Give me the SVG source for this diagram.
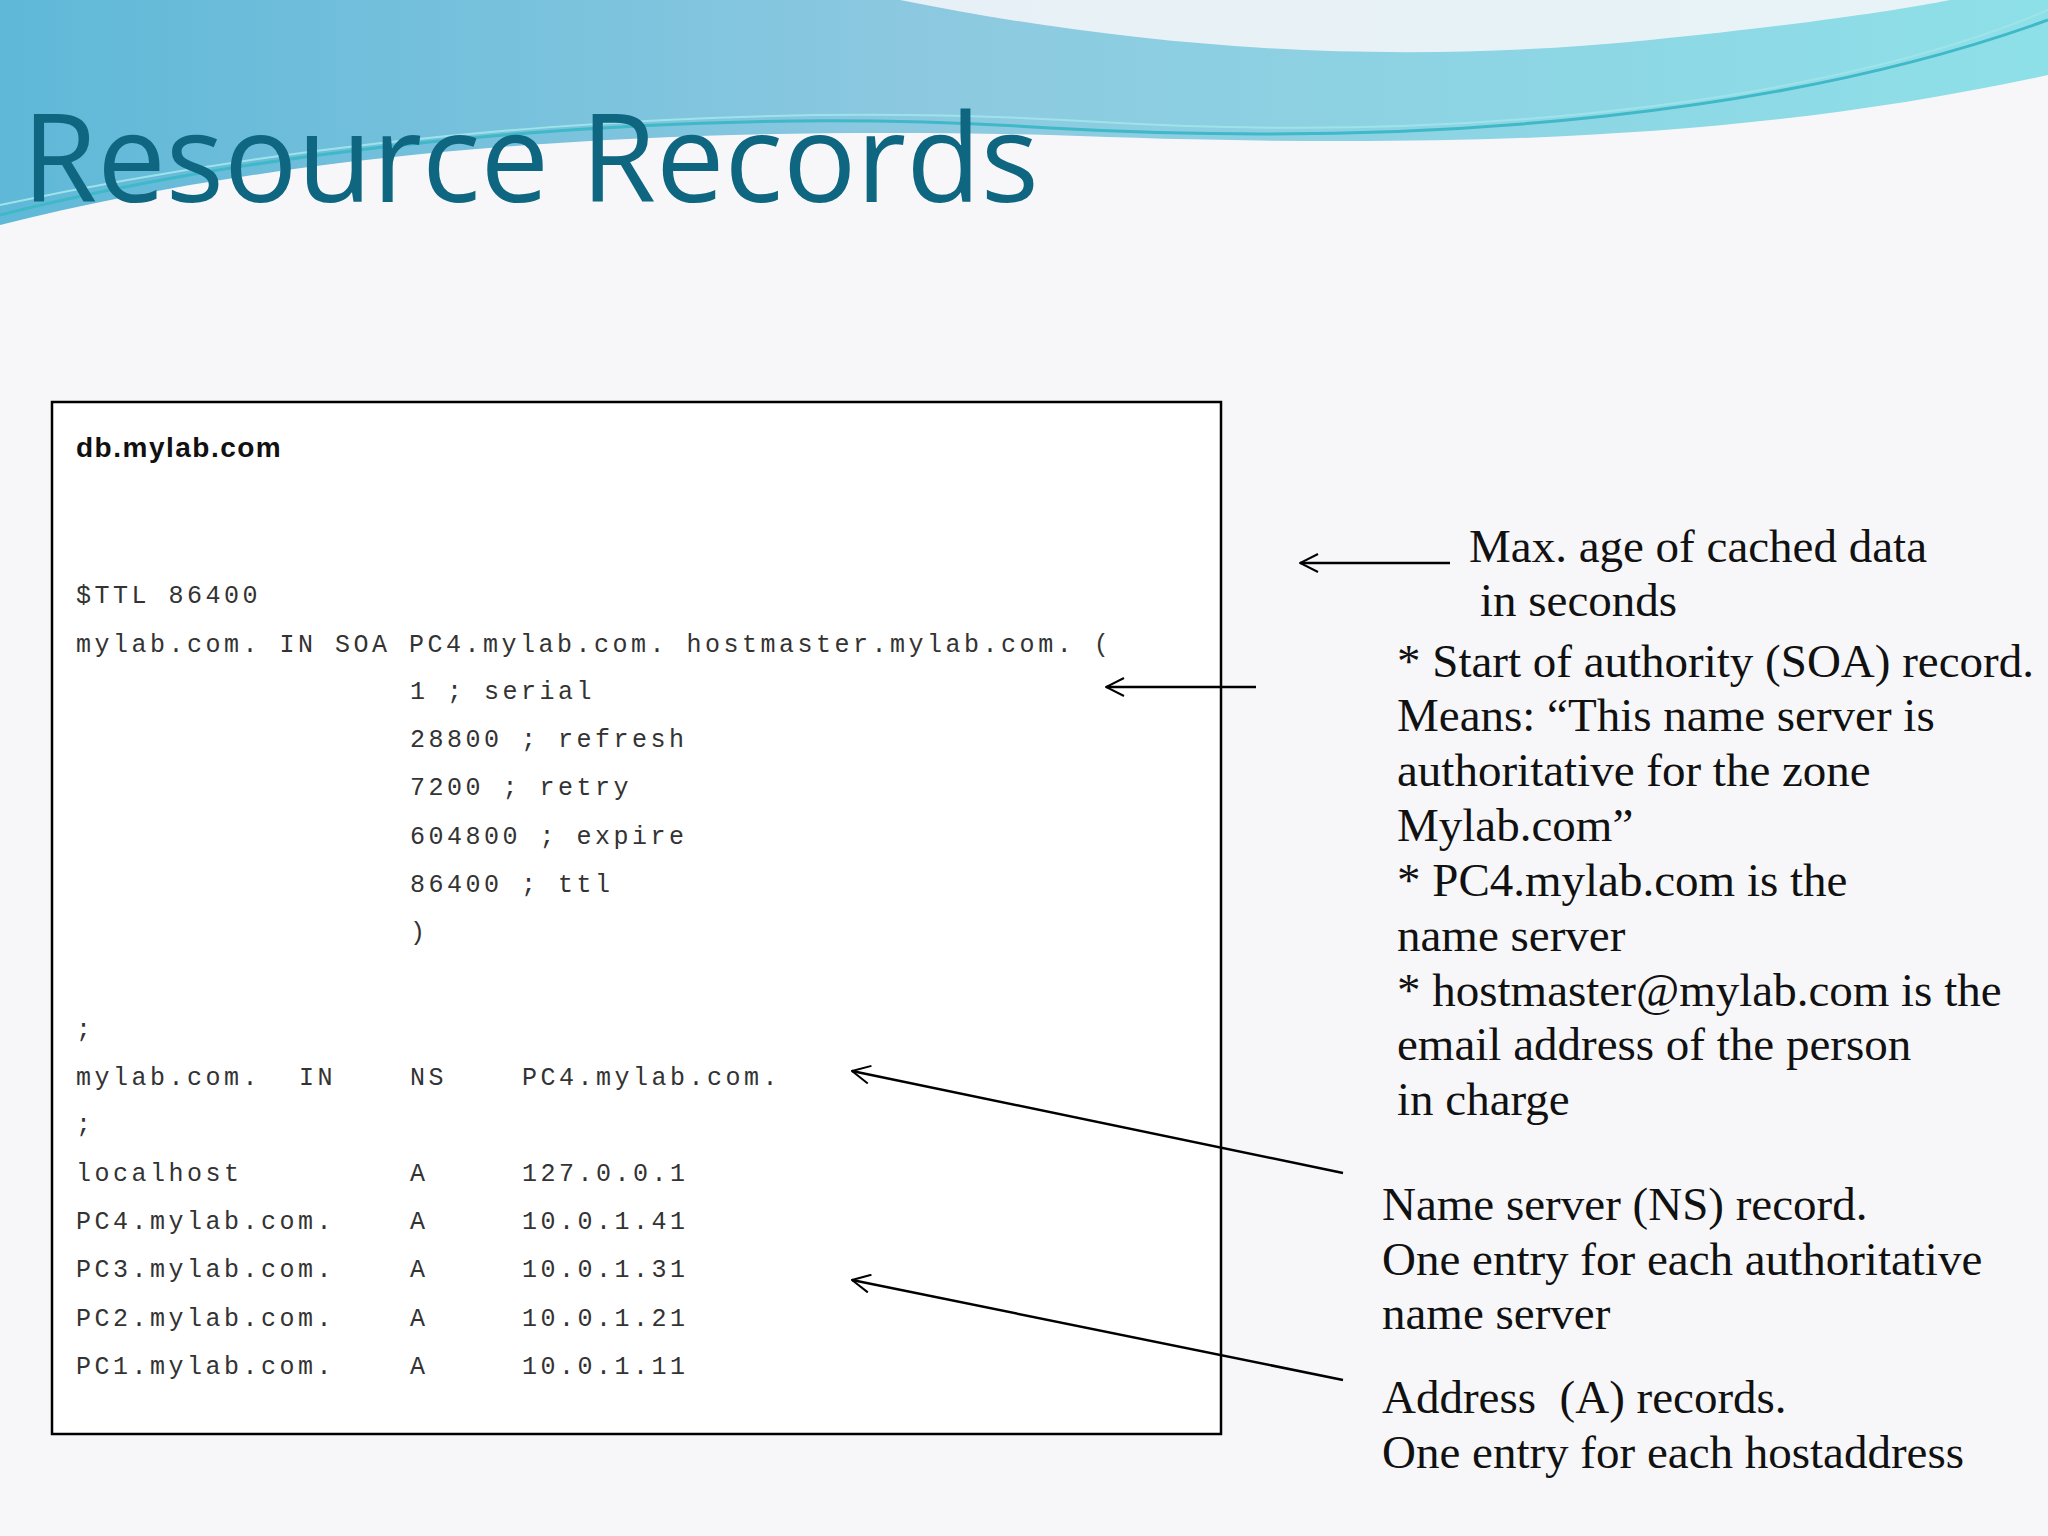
<svg xmlns="http://www.w3.org/2000/svg" width="2048" height="1536" viewBox="0 0 2048 1536">
<defs>
<linearGradient id="sky" x1="0" y1="0" x2="1" y2="0">
<stop offset="0" stop-color="#5fb8d8"/><stop offset="0.45" stop-color="#8cc9e0"/><stop offset="1" stop-color="#8ee0e8"/>
</linearGradient>
<marker id="ah" viewBox="0 0 20 20" refX="19" refY="10" markerWidth="20" markerHeight="20" markerUnits="userSpaceOnUse" orient="auto">
<path d="M1,1 L19,10 L1,19" fill="none" stroke="#000" stroke-width="2"/>
</marker>
<style>
.code{font-family:"Liberation Mono",monospace;font-size:25px;fill:#333;letter-spacing:3.5px}
.note{font-family:"Liberation Serif",serif;font-size:47px;fill:#111}
.arr{stroke:#000;stroke-width:2.5;fill:none;marker-end:url(#ah)}
</style>
</defs>
<rect width="2048" height="1536" fill="#f7f7f9"/>
<g id="header">
<path d="M0,0 H2048 V75 C1750,140 1450,150 1050,135 C650,125 300,150 0,225 Z" fill="url(#sky)"/>
<path d="M900,0 C1100,40 1350,70 1650,40 C1800,25 1900,10 1950,0 Z" fill="#f7f7f9" opacity="0.85"/>
<path d="M0,215 C300,140 700,105 1050,128 C1450,150 1800,110 2048,20" fill="none" stroke="#3fb8c8" stroke-width="3"/>
<path d="M0,205 C350,130 750,100 1100,122 C1500,145 1850,95 2048,10" fill="none" stroke="#9fe3ea" stroke-width="2"/>
</g>
<text x="22" y="202" font-family="Open Sans, sans-serif" font-size="122" fill="#0f6680">Resource Records</text>
<g id="zonefile">
<rect x="52" y="402" width="1169" height="1032" fill="#fff" stroke="#000" stroke-width="2.5"/>
<text x="76" y="457" font-family="Liberation Sans, sans-serif" font-weight="bold" font-size="28" fill="#111" letter-spacing="1.5">db.mylab.com</text>
<g class="code">
<text x="76" y="603">$TTL 86400</text>
<text x="76" y="652">mylab.com. IN SOA PC4.mylab.com. hostmaster.mylab.com. (</text>
<text x="410" y="699">1 ; serial</text>
<text x="410" y="747">28800 ; refresh</text>
<text x="410" y="795">7200 ; retry</text>
<text x="410" y="844">604800 ; expire</text>
<text x="410" y="892">86400 ; ttl</text>
<text x="410" y="940">)</text>
<text x="76" y="1037">;</text>
<text x="76" y="1085">mylab.com.</text><text x="299" y="1085">IN</text><text x="410" y="1085">NS</text><text x="522" y="1085">PC4.mylab.com.</text>
<text x="76" y="1132">;</text>
<text x="76" y="1181">localhost</text><text x="410" y="1181">A</text><text x="522" y="1181">127.0.0.1</text>
<text x="76" y="1229">PC4.mylab.com.</text><text x="410" y="1229">A</text><text x="522" y="1229">10.0.1.41</text>
<text x="76" y="1277">PC3.mylab.com.</text><text x="410" y="1277">A</text><text x="522" y="1277">10.0.1.31</text>
<text x="76" y="1326">PC2.mylab.com.</text><text x="410" y="1326">A</text><text x="522" y="1326">10.0.1.21</text>
<text x="76" y="1374">PC1.mylab.com.</text><text x="410" y="1374">A</text><text x="522" y="1374">10.0.1.11</text>
</g>
</g>
<g id="notes" class="note">
<text x="1469" y="562">Max. age of cached data</text>
<text x="1480" y="616">in seconds</text>
<text x="1397" y="677">* Start of authority (SOA) record.</text>
<text x="1397" y="731">Means: “This name server is</text>
<text x="1397" y="786">authoritative for the zone</text>
<text x="1397" y="841">Mylab.com”</text>
<text x="1397" y="896">* PC4.mylab.com is the</text>
<text x="1397" y="951">name server</text>
<text x="1397" y="1006">* hostmaster@mylab.com is the</text>
<text x="1397" y="1060">email address of the person</text>
<text x="1397" y="1115">in charge</text>
<text x="1382" y="1220">Name server (NS) record.</text>
<text x="1382" y="1275">One entry for each authoritative</text>
<text x="1382" y="1329">name server</text>
<text x="1382" y="1413" xml:space="preserve">Address  (A) records.</text>
<text x="1382" y="1468">One entry for each hostaddress</text>
</g>
<g id="connectors">
<line class="arr" x1="1450" y1="563" x2="1300" y2="563"/>
<line class="arr" x1="1256" y1="687" x2="1106" y2="687"/>
<line class="arr" x1="1343" y1="1173" x2="852" y2="1071"/>
<line class="arr" x1="1343" y1="1380" x2="852" y2="1280"/>
</g>
</svg>
